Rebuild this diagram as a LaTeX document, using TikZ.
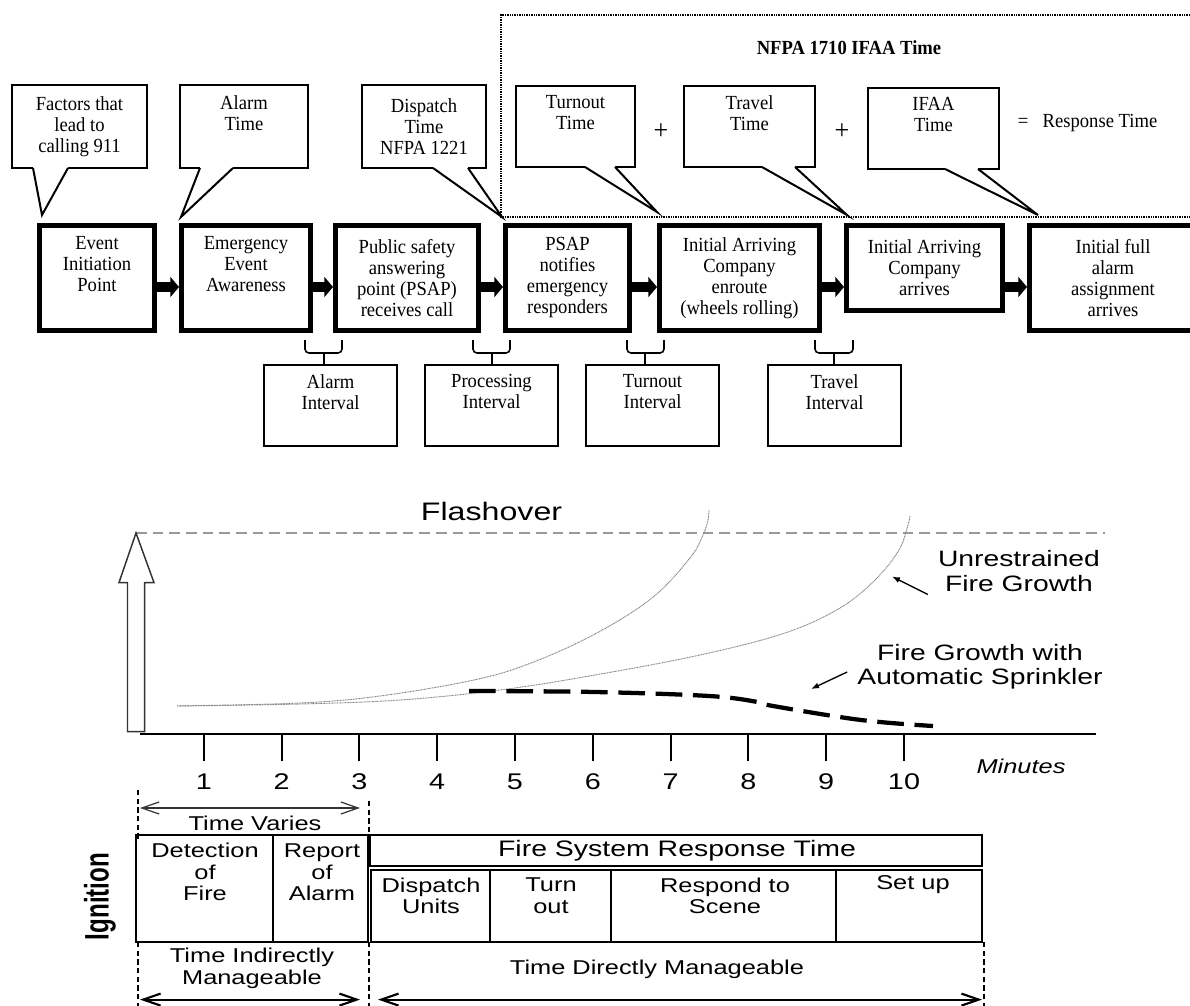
\documentclass[tikz,border=0pt]{standalone}
\usepackage{fontspec}
\setmainfont{Liberation Serif}[FakeStretch=0.93]
\newfontfamily\chartfont[FakeStretch=1.27]{Liberation Sans}
\newfontfamily\ignfont[FakeStretch=0.71]{Liberation Sans}
\usetikzlibrary{arrows.meta,positioning}

\begin{document}
\begin{tikzpicture}[x=0.75pt, y=-0.75pt,
  toptext/.style={font=\fontsize{15}{15.75}\selectfont, align=center, inner sep=0pt},
  stage/.style={toptext, draw, line width=3.75pt, minimum height=78.75pt},
  bubble/.style={toptext, draw, fill=white, line width=1.5pt, minimum height=62.25pt},
  intbox/.style={toptext, draw, line width=1.5pt, minimum width=99.75pt, minimum height=60.75pt},
  fat/.style={line width=8pt, -{Triangle[length=6.5pt,width=15pt]}},
  charttext/.style={font=\chartfont\fontsize{15}{16.1}\selectfont, align=center, inner sep=0pt},
  cell/.style={line width=1.5pt},
  guide/.style={line width=0.8pt, dash pattern=on 4pt off 2.5pt},
  span/.style={{Straight Barb[length=13pt,width=9pt]}-{Straight Barb[length=13pt,width=9pt]}},
  pointer/.style={line width=1pt, -{Latex[length=6pt,width=4.5pt]}},
  growth/.style={gray, line width=0.7pt, dash pattern=on 0.7pt off 0.5pt}]
\useasboundingbox (0,0) rectangle (1190,1006);

\draw[line width=1.3pt, dash pattern=on 1pt off 0.8pt] (1195,15) -- (501,15) -- (501,217) -- (1195,217);
\node[font=\bfseries\fontsize{15}{16}\selectfont] (30) at (849,48) {NFPA 1710 IFAA Time};

\node[stage, minimum width=86.25pt] (1) at (97,278) {Event\\Initiation\\Point\\\strut};
\node[stage, minimum width=96.75pt] (2) at (246,278) {Emergency\\Event\\Awareness\\\strut};
\node[stage, minimum width=107.25pt] (3) at (407,278) {Public safety\\answering\\point (PSAP)\\receives call};
\node[stage, minimum width=93pt] (4) at (567.5,278) {PSAP\\notifies\\emergency\\responders};
\node[stage, minimum width=120pt] (5) at (739.5,278) {Initial Arriving\\Company\\enroute\\(wheels rolling)};
\node[stage, minimum width=117pt, minimum height=63.75pt] (6) at (924.5,268) {Initial Arriving\\Company\\arrives};
\node[stage, minimum width=125.25pt] (7) at (1113,278) {Initial full\\alarm\\assignment\\arrives};
\coordinate (r) at (0,287);
\foreach \a/\b in {1/2,2/3,3/4,4/5,5/6,6/7}
  \draw[fat] (\a.east |- r) -- (\b.west |- r);

\node[bubble, minimum width=101.25pt] (11) at (79.5,126.5) {Factors that\\lead to\\calling 911};
\node[bubble, minimum width=96pt] (12) at (244,126.5) {Alarm\\Time\\\strut};
\node[bubble, minimum width=93pt] (13) at (424,126.5) {Dispatch\\Time\\NFPA 1221};
\node[bubble, minimum width=89.25pt, minimum height=60.75pt] (14) at (575.5,126.5) {Turnout\\Time\\\strut};
\node[bubble, minimum width=98.25pt, minimum height=60.75pt] (15) at (749.5,126.5) {Travel\\Time\\\strut};
\node[bubble, minimum width=98.25pt, minimum height=60.75pt] (16) at (933.5,128.5) {IFAA\\Time\\\strut};
\foreach \c/\b/\l/\r/\tx/\ty in {11/1/22/57/5/-8, 12/2/21/54/2/-6, 13/4/72/107/-1/-6,
    14/5/70/100/0/-11, 15/6/79/112/3/-8, 16/7/78/111/11/-8} {
  \fill[white] ([shift={(\l,-4)}]\c.south west) -- ([shift={(\l,-1)}]\c.south west)
    -- ([shift={(\tx,\ty)}]\b.north west) -- ([shift={(\r,-1)}]\c.south west)
    -- ([shift={(\r,-4)}]\c.south west) -- cycle;
  \draw[line width=1.5pt] ([shift={(\l,-1)}]\c.south west) -- ([shift={(\tx,\ty)}]\b.north west)
    -- ([shift={(\r,-1)}]\c.south west);
}
\node[font=\fontsize{21}{21}\selectfont] (31) at (661,132) {+};
\node[font=\fontsize{21}{21}\selectfont] (32) at (842,132) {+};
\node[toptext] (33) at (1023,123) {=};
\node[toptext] (34) at (1100,123) {Response Time};

\node[intbox] (21) at (330.5,405.5) {Alarm\\Interval\\\strut};
\node[intbox] (22) at (491.5,405.5) {Processing\\Interval\\\strut};
\node[intbox] (23) at (652.5,405.5) {Turnout\\Interval\\\strut};
\node[intbox] (24) at (834.5,405.5) {Travel\\Interval\\\strut};
\foreach \l/\m/\r in {305/324/342, 473/492/510, 627/645/664, 815/834/853} {
  \draw[line width=1.2pt, rounded corners=3pt] (\l,340) |- (\r,353) -- (\r,340);
  \draw[line width=1.2pt] (\m,353) -- (\m,364);
}

\draw[gray!80, line width=1pt, dash pattern=on 8pt off 4.5pt] (136,533) -- (1105,533);
\node[charttext, font=\chartfont\fontsize{19}{20}\selectfont] (40) at (491.5,511) {Flashover};
\draw[line width=1.1pt, black!80] (127.5,731.7) -- (127.5,582.6) -- (119,582.6) -- (136,533)
  -- (154,582.6) -- (144.6,582.6) -- (144.6,731.7) -- cycle;
\draw[line width=1.5pt] (140,734) -- (1096,734);
\foreach \i in {1,...,10} {
  \draw[line width=1.5pt] ({126+77.8*\i},734) -- ({126+77.8*\i},760.6);
  \node[charttext, font=\chartfont\fontsize{17}{18}\selectfont] (n\i) at ({126+77.8*\i},782) {\i};
}
\node[charttext, font=\chartfont\itshape\fontsize{15}{16}\selectfont] (45) at (1021,766) {Minutes};

\draw[growth] plot[smooth, tension=0.6] coordinates
  {(177,706) (300,703) (380,696) (474,680) (531,663) (595,634) (652,598) (690,558) (703,535) (708,520) (709,510)};
\draw[growth] plot[smooth, tension=0.6] coordinates
  {(177,706) (300,704) (400,700) (500,690) (595,675) (700,655) (785,633) (840,608) (875,580) (899,550) (908,525) (910,516)};
\draw[line width=3.2pt, dash pattern=on 20pt off 8pt] plot[smooth, tension=0.6] coordinates
  {(469,691) (595,692) (709,696) (758,702) (773,706) (861,720) (933,726)};

\node[charttext, font=\chartfont\fontsize{16.7}{18.75}\selectfont] (41) at (1019,571.5) {Unrestrained\\Fire Growth};
\node[charttext, font=\chartfont\fontsize{16.7}{18.3}\selectfont] (42) at (980,667) {Fire Growth with\\Automatic Sprinkler};
\coordinate (43) at (892,576.5);
\coordinate (44) at (811,689);
\draw[pointer] ([shift={(-10,2)}]41.south west) -- (43);
\draw[pointer] ([shift={(-10,5)}]42.west) -- (44);

\draw[span, line width=0.9pt, black!80] (140,808) -- (360,808);
\node[charttext] (46) at (255,823) {Time Varies};
\draw[guide] (138,790) -- (138,841);
\draw[guide] (369,801) -- (369,835);
\foreach \x in {138,369,984}
  \draw[guide] (\x,942) -- (\x,1006);

\draw[cell] (135.5,835.3) rectangle (368,941.8);
\draw[cell] (272.5,835.3) -- (272.5,941.8);
\draw[cell] (370,835.3) rectangle (982,866);
\draw[cell] (371,869.6) rectangle (982,941.8);
\foreach \x in {489.6,611,836}
  \draw[cell] (\x,869.6) -- (\x,941.8);

\node[charttext] (50) at (205,872.3) {Detection\\of\\Fire};
\node[charttext] (51) at (322,872.3) {Report\\of\\Alarm};
\node[charttext, font=\chartfont\fontsize{16.8}{18}\selectfont] (52) at (677,851) {Fire System Response Time};
\node[charttext] (53) at (431,895.8) {Dispatch\\Units};
\node[charttext] (54) at (551,895.8) {Turn\\out};
\node[charttext] (55) at (725,895.8) {Respond to\\Scene};
\node[charttext] (56) at (913,884.8) {Set up};
\node[charttext] (57) at (252,968.5) {Time Indirectly\\Manageable};
\node[charttext] (58) at (657,969.6) {Time Directly Manageable};
\node[font=\ignfont\bfseries\fontsize{25.5}{26}\selectfont, rotate=90, inner sep=0pt] (59) at (100,896.5) {Ignition};

\draw[span, line width=1.6pt] (140,999.6) -- (360,999.6);
\draw[span, line width=1.6pt] (378,999.6) -- (982,999.6);
\end{tikzpicture}
\end{document}
